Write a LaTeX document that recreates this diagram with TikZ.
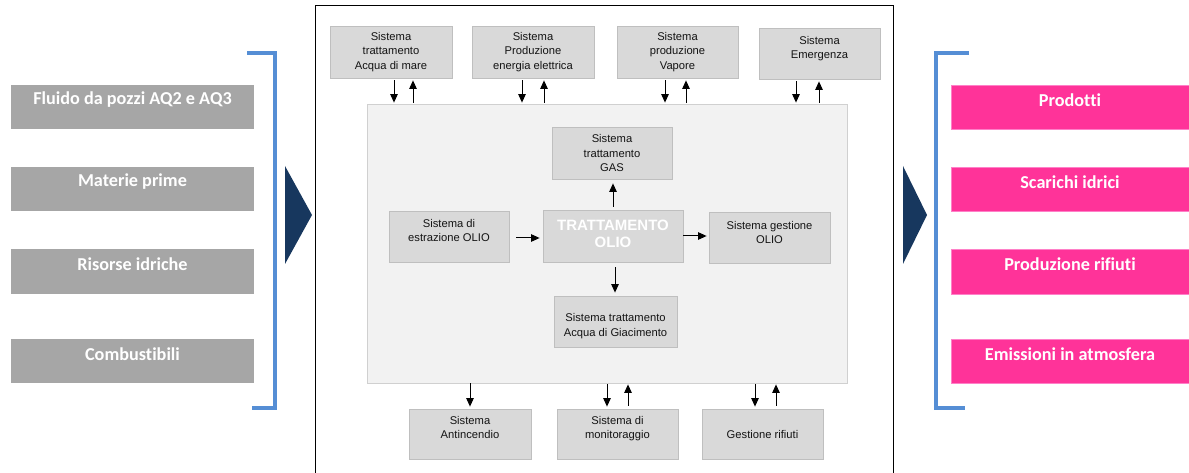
\documentclass[tikz,border=0pt]{standalone}
\usepackage{fontspec}
\setmainfont{Liberation Sans}
\newfontfamily\calib[Ligatures=NoCommon]{Carlito}
\usetikzlibrary{arrows.meta,calc}
\definecolor{boxgray}{HTML}{D9D9D9}
\definecolor{boxline}{HTML}{BFBFBF}
\definecolor{panel}{HTML}{F2F2F2}
\definecolor{panelline}{HTML}{D0D0D0}
\definecolor{ingray}{HTML}{A6A6A6}
\definecolor{outpink}{HTML}{FF3399}
\definecolor{pinkline}{HTML}{FF80C8}
\definecolor{brblue}{HTML}{558ED5}
\definecolor{navy}{HTML}{17375E}
\definecolor{txt}{HTML}{141414}
\tikzset{
  sysbox/.style={draw=boxline, fill=boxgray, line width=0.8pt, inner sep=0pt,
    text=txt, align=center, font=\fontsize{11.2}{14.5}\selectfont},
  lbl/.style={text=txt, align=center, font=\fontsize{11.2}{14.5}\selectfont, inner sep=0pt},
  inbox/.style={fill=ingray, inner sep=0pt, minimum width=243pt, minimum height=44pt},
  outbox/.style={fill=outpink, draw=pinkline, line width=0.6pt, inner sep=0pt, minimum width=238pt, minimum height=44pt},
  biglbl/.style={text=white, font=\calib\bfseries\fontsize{18.2}{20}\selectfont, inner sep=0pt},
  arr/.style={line width=1pt, -{Triangle[width=7.5pt,length=8.5pt]}},
  bracket/.style={draw=brblue, line width=3.5pt, line join=miter},
}
\begin{document}
\begin{tikzpicture}[x=1pt,y=-1pt]
\useasboundingbox (0,0) rectangle (1189,473);
\clip (0,0) rectangle (1189,473);

% central frame (open at the bottom)
\draw[line width=1pt] (315,490) -- (315,6) -- (893,6) -- (893,490);

% inputs
\node[inbox, label={[biglbl,yshift=7pt]center:Fluido da pozzi AQ2 e AQ3}] (in1) at (132.5,107) {};
\node[inbox, label={[biglbl,yshift=7pt]center:Materie prime}] (in2) at (132.5,189) {};
\node[inbox, minimum height=45pt, label={[biglbl,yshift=7pt]center:Risorse idriche}] (in3) at (132.5,271.5) {};
\node[inbox, label={[biglbl,yshift=7pt]center:Combustibili}] (in4) at (132.5,361) {};
\draw[bracket] (247,53) -- (275,53) -- (275,408) -- (252,408);
\fill[navy] (285,166) -- (312,215) -- (285,264) -- cycle;

% outputs
\node[outbox, label={[biglbl,yshift=7pt]center:Prodotti}] (out1) at (1070,107) {};
\node[outbox, label={[biglbl,yshift=7pt]center:Scarichi idrici}] (out2) at (1070,189) {};
\node[outbox, minimum height=45pt, label={[biglbl,yshift=7pt]center:Produzione rifiuti}] (out3) at (1070,271.5) {};
\node[outbox, label={[biglbl,yshift=7pt]center:Emissioni in atmosfera}] (out4) at (1070,361) {};
\draw[bracket] (969,53) -- (936,53) -- (936,408) -- (965,408);
\fill[navy] (903,166) -- (927,215) -- (903,264) -- cycle;

% oil treatment area
\node[draw=panelline, fill=panel, line width=0.8pt, minimum width=480pt, minimum height=279pt, inner sep=0pt] (core) at (607,243.5) {};

% auxiliary systems above
\node[sysbox, minimum width=122pt, minimum height=52pt] (b1) at (391,52) {Sistema\\trattamento\\Acqua di mare};
\node[sysbox, minimum width=122pt, minimum height=52pt] (b2) at (533,52) {Sistema\\Produzione\\energia elettrica};
\node[sysbox, minimum width=121pt, minimum height=52pt] (b3) at (677.5,52) {Sistema\\produzione\\Vapore};
\node[sysbox, minimum width=121pt, minimum height=51pt, label={[lbl,yshift=5pt]center:Sistema\\Emergenza}] (b4) at (819.5,53.5) {};

% process blocks
\node[sysbox, minimum width=120pt, minimum height=52pt] (gas) at (612,153) {Sistema\\trattamento\\GAS};
\node[sysbox, minimum width=120pt, minimum height=51pt, label={[lbl,yshift=6pt]center:Sistema di\\estrazione OLIO}] (estr) at (449,236.5) {};
\node[sysbox, minimum width=140pt, minimum height=52pt, label={[text=white, align=center, inner sep=0pt, font=\bfseries\fontsize{15}{17}\selectfont, yshift=2.5pt]center:TRATTAMENTO\\OLIO}] (tratt) at (613,236) {};
\node[sysbox, minimum width=121pt, minimum height=51pt, label={[lbl,yshift=5pt]center:Sistema gestione\\OLIO}] (gest) at (769.5,237.5) {};
\node[sysbox, minimum width=123pt, minimum height=51pt, label={[lbl,yshift=-4.5pt]center:Sistema trattamento\\Acqua di Giacimento}] (acq) at (615.5,321.5) {};

% auxiliary systems below
\node[sysbox, minimum width=122pt, minimum height=50pt, label={[lbl,yshift=6.5pt]center:Sistema\\Antincendio}] (ant) at (470,434) {};
\node[sysbox, minimum width=121pt, minimum height=50pt, label={[lbl,yshift=5.5pt]center:Sistema di\\monitoraggio}] (mon) at (617.5,434) {};
\node[sysbox, minimum width=121pt, minimum height=50pt] (rif) at (762.5,434) {Gestione rifiuti};

% exchanges with the auxiliary systems above
\draw[arr] ($(b1.south)+(3,2)$) -- ($(b1.south |- core.north)+(3,-1)$);
\draw[arr] ($(b1.south |- core.north)+(22,-1)$) -- ($(b1.south)+(22,2)$);
\draw[arr] ($(b2.south)+(-11,2)$) -- ($(b2.south |- core.north)+(-11,-1)$);
\draw[arr] ($(b2.south |- core.north)+(11,-1)$) -- ($(b2.south)+(11,2)$);
\draw[arr] ($(b3.south)+(-12.5,2)$) -- ($(b3.south |- core.north)+(-12.5,-1)$);
\draw[arr] ($(b3.south |- core.north)+(8.5,-1)$) -- ($(b3.south)+(8.5,2)$);
\draw[arr] ($(b4.south)+(-23.5,2)$) -- ($(b4.south |- core.north)+(-23.5,-1)$);
\draw[arr] ($(b4.south |- core.north)+(-0.5,-1)$) -- ($(b4.south)+(-0.5,2)$);

% process flow
\draw[arr] ($(estr.east)+(7,1.5)$) -- ($(tratt.west)+(-3,2)$);
\draw[arr] (tratt.east) -- ($(gest.west |- tratt.east)+(-2,0)$);
\draw[arr] ($(tratt.north)+(0,-3)$) -- ($(tratt.north |- gas.south)+(0,4)$);
\draw[arr] ($(tratt.south)+(2,5)$) -- ($(tratt.south |- acq.north)+(2,-3)$);

% exchanges with the auxiliary systems below
\draw[arr] ($(ant.north |- core.south)+(0,0)$) -- ($(ant.north)+(0,-2)$);
\draw[arr] ($(mon.north |- core.south)+(-10.5,1)$) -- ($(mon.north)+(-10.5,-2)$);
\draw[arr] ($(mon.north)+(10.5,-3)$) -- ($(mon.north |- core.south)+(10.5,1)$);
\draw[arr] ($(rif.north |- core.south)+(-7.5,1)$) -- ($(rif.north)+(-7.5,-2)$);
\draw[arr] ($(rif.north)+(13.5,-3)$) -- ($(rif.north |- core.south)+(13.5,1)$);
\end{tikzpicture}
\end{document}
